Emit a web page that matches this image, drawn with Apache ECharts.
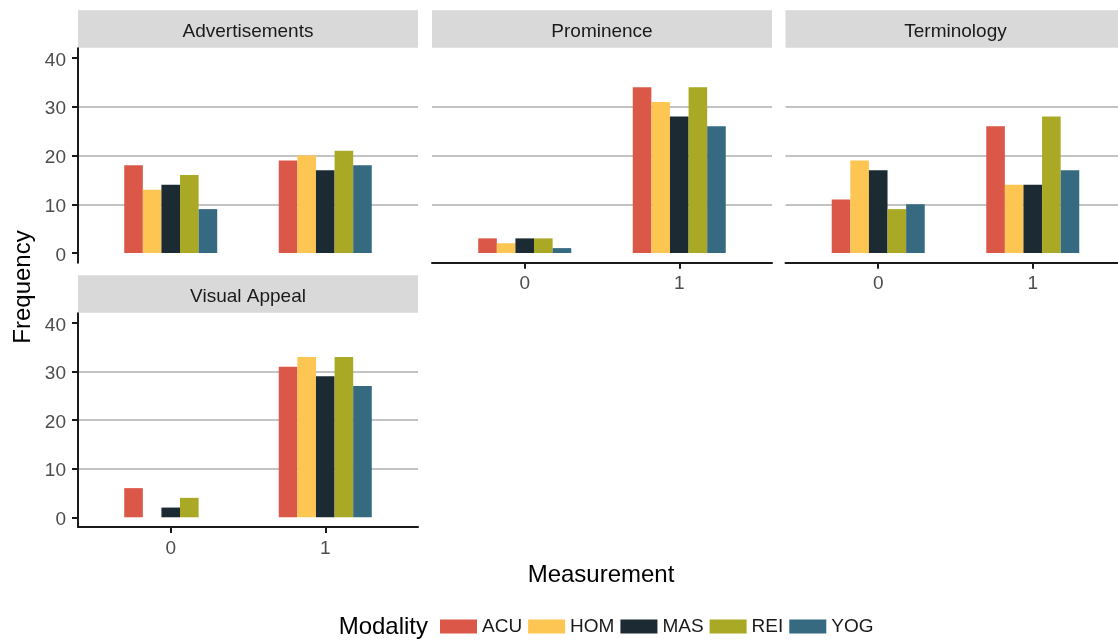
<!DOCTYPE html>
<html>
<head>
<meta charset="utf-8">
<script src="https://cdn.jsdelivr.net/npm/echarts@6/dist/echarts.min.js"></script>
<style>
html,body{margin:0;padding:0;background:#fff;}
#chart{width:1118px;height:642px;}
</style>
</head>
<body>
<div id="chart"></div>
<script>
// ---- data ----
const panelNames = ['Advertisements', 'Prominence', 'Terminology', 'Visual Appeal'];
const modalities = ['ACU', 'HOM', 'MAS', 'REI', 'YOG'];
const measurementValues = [0, 1];
const measurementLabels = ['0', '1'];
const yTicks = [0, 10, 20, 30, 40];

// values per modality: [measurement 0, measurement 1]
const advertisements = [[18, 19], [13, 20], [14, 17], [16, 21], [9, 18]];
const prominence = [[3, 34], [2, 31], [3, 28], [3, 34], [1, 26]];
const terminology = [[11, 26], [19, 14], [17, 14], [9, 28], [10, 17]];
const visualAppeal = [[6, 31], [null, 33], [2, 29], [4, 33], [null, 27]];
const panelValues = [advertisements, prominence, terminology, visualAppeal];

const colors = ['#DB5748', '#FDC653', '#1B2A33', '#A9A925', '#356A80'];

// ---- layout ----
const FONT = 'Liberation Sans, Arial, sans-serif';
const panelW = 340;
const panels = [
  {left: 78, top: 48.25, height: 214.5, showY: true, showX: false},
  {left: 432, top: 48.25, height: 214.5, showY: false, showX: true},
  {left: 785.5, top: 48.25, height: 214.5, showY: false, showX: true},
  {left: 78, top: 313.2, height: 213.8, showY: true, showX: true}
];
const stripH = 37.5;

const grids = [], xAxes = [], yAxes = [], series = [], graphics = [];
const gridColor = '#c3c3c3';
panels.forEach((p, i) => {
  grids.push({left: p.left, top: p.top, width: panelW, height: p.height, containLabel: false, outerBoundsMode: 'none'});
  xAxes.push({
    type: 'value', gridIndex: i, min: -0.6, max: 1.6,
    axisLine: {show: p.showX, onZero: false, lineStyle: {color: '#1a1a1a', width: 2}},
    axisTick: {show: p.showX, customValues: measurementValues, length: 6, lineStyle: {color: '#1a1a1a', width: 2}},
    axisLabel: {show: p.showX, customValues: measurementValues, margin: 12, color: '#4d4d4d', fontSize: 19, fontFamily: FONT,
      formatter: v => measurementLabels[measurementValues.indexOf(v)]},
    splitLine: {show: false}
  });
  yAxes.push({
    type: 'value', gridIndex: i, min: -2, max: 42,
    axisLine: {show: p.showY, onZero: false, lineStyle: {color: '#1a1a1a', width: 2}},
    axisTick: {show: p.showY, customValues: yTicks, length: 6, lineStyle: {color: '#1a1a1a', width: 2}},
    axisLabel: {show: p.showY, customValues: yTicks, margin: 12, color: '#4d4d4d', fontSize: 19, fontFamily: FONT,
      formatter: v => '{s| }\n{a|' + v + '}',
      rich: {
        s: {fontSize: 1, lineHeight: 5, height: 5},
        a: {fontSize: 19, lineHeight: 19, color: '#4d4d4d', fontFamily: FONT}
      }},
    splitLine: {show: true, lineStyle: {color: ['rgba(0,0,0,0)', gridColor, gridColor, gridColor, 'rgba(0,0,0,0)'], width: 2}}
  });
  modalities.forEach((m, k) => {
    series.push({
      type: 'bar', name: m, xAxisIndex: i, yAxisIndex: i,
      barWidth: 18.6, barGap: '0%',
      itemStyle: {color: colors[k]},
      emphasis: {disabled: true},
      data: measurementValues.map((x, j) => {
        const v = panelValues[i][k][j];
        return [x, v == null ? '-' : v];
      })
    });
  });
  // strip
  graphics.push({type: 'rect', shape: {x: p.left, y: p.top - stripH - 0.5, width: panelW, height: stripH},
    style: {fill: '#d9d9d9'}, silent: true});
  graphics.push({type: 'text', x: p.left + panelW / 2, y: p.top - stripH / 2 + 2,
    style: {text: panelNames[i], fill: '#1a1a1a', fontSize: 19, fontFamily: FONT, align: 'center', verticalAlign: 'middle'}, silent: true});
});

graphics.push({type: 'text', x: 601, y: 575,
  style: {text: 'Measurement', fill: '#000', fontSize: 24, fontFamily: FONT, align: 'center', verticalAlign: 'middle'}});
graphics.push({type: 'text', x: 23, y: 287, rotation: Math.PI / 2,
  style: {text: 'Frequency', fill: '#000', fontSize: 24, fontFamily: FONT, align: 'center', verticalAlign: 'middle'}});
graphics.push({type: 'text', x: 428, y: 627,
  style: {text: 'Modality', fill: '#000', fontSize: 24, fontFamily: FONT, align: 'right', verticalAlign: 'middle'}});

const chart = echarts.init(document.getElementById('chart'), null, {renderer: 'canvas'});
chart.setOption({
  animation: false,
  backgroundColor: '#fff',
  grid: grids,
  xAxis: xAxes,
  yAxis: yAxes,
  legend: {
    data: modalities, left: 435, top: 612, orient: 'horizontal',
    icon: 'rect', itemWidth: 37, itemHeight: 14, itemGap: 6,
    textStyle: {fontSize: 19, fontFamily: FONT, color: '#1a1a1a'},
    selectedMode: false
  },
  tooltip: {show: false},
  series: series,
  graphic: graphics
});
</script>
</body>
</html>
